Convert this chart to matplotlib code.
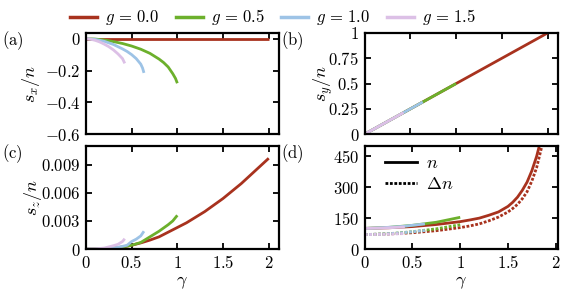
import matplotlib

matplotlib.use("Agg")
import matplotlib.pyplot as plt
from matplotlib.lines import Line2D

plt.rcParams["mathtext.fontset"] = "cm"
plt.rcParams["font.family"] = ["DejaVu Serif"]

# colours per coupling g
g_labels = [r"$g\,=\,0.0$", r"$g\,=\,0.5$", r"$g\,=\,1.0$", r"$g\,=\,1.5$"]
colors = ["#a8321e", "#6cb02c", "#9dc3e6", "#dcc0e6"]

# (a) s_x / n
sx_gamma = [
    [0.0, 2.0],
    [0.0, 0.1, 0.2, 0.3, 0.4, 0.5, 0.6, 0.7, 0.8, 0.85, 0.9, 0.95, 0.98, 1.0],
    [0.0, 0.1, 0.2, 0.3, 0.4, 0.45, 0.5, 0.55, 0.6, 0.62, 0.635],
    [0.0, 0.05, 0.1, 0.15, 0.2, 0.25, 0.3, 0.35, 0.4, 0.425],
]
sx_vals = [
    [0.0, 0.0],
    [0.0, -0.002, -0.008, -0.018, -0.03, -0.046, -0.066, -0.092, -0.128,
     -0.15, -0.178, -0.22, -0.25, -0.28],
    [0.0, -0.004, -0.016, -0.036, -0.064, -0.08, -0.1, -0.125, -0.16, -0.185, -0.215],
    [0.0, -0.003, -0.01, -0.02, -0.034, -0.05, -0.07, -0.095, -0.125, -0.155],
]

# (b) s_y / n
sy_gamma = [[0.0, 2.0], [0.0, 1.0], [0.0, 0.635], [0.0, 0.425]]
sy_vals = [[0.0, 1.0], [0.0, 0.5], [0.0, 0.3175], [0.0, 0.2125]]

# (c) s_z / n
sz_gamma = [
    [0.0, 0.1, 0.2, 0.3, 0.4, 0.5, 0.6, 0.7, 0.8, 0.9, 1.0,
     1.1, 1.2, 1.3, 1.4, 1.5, 1.6, 1.7, 1.8, 1.9, 2.0],
    [0.0, 0.1, 0.2, 0.3, 0.4, 0.5, 0.6, 0.7, 0.8, 0.9, 0.95, 1.0],
    [0.0, 0.1, 0.2, 0.3, 0.4, 0.45, 0.5, 0.55, 0.6, 0.635],
    [0.0, 0.1, 0.2, 0.3, 0.35, 0.4, 0.425],
]
sz_vals = [
    [0.0, 0.0, 0.00002, 0.00008, 0.0002, 0.0004, 0.00065, 0.00095, 0.0013, 0.0018,
     0.0023, 0.0028, 0.0034, 0.0040, 0.0047, 0.0054, 0.0062, 0.0070, 0.0079,
     0.0088, 0.0097],
    [0.0, 0.0, 0.00002, 0.0001, 0.00022, 0.0004, 0.0007, 0.0013, 0.0019,
     0.0026, 0.003, 0.0036],
    [0.0, 0.0, 0.00003, 0.0001, 0.00028, 0.0004, 0.0008, 0.00105, 0.0014, 0.0019],
    [0.0, 0.00001, 0.0001, 0.00035, 0.0005, 0.0008, 0.0011],
]

# (d) n (solid) and Delta n (dashed)
n_gamma = [
    [0.0, 0.25, 0.5, 0.75, 1.0, 1.1, 1.2, 1.3, 1.4, 1.5, 1.55, 1.6, 1.65,
     1.7, 1.75, 1.8, 1.85],
    [0.0, 0.25, 0.5, 0.75, 1.0],
    [0.0, 0.2, 0.4, 0.63],
    [0.0, 0.2, 0.42],
]
n_vals = [
    [100, 103, 109, 119, 133, 141, 150, 164, 180, 207, 227, 252, 285,
     325, 380, 450, 540],
    [100, 105, 115, 130, 154],
    [100, 104, 110, 122],
    [100, 102, 107],
]
dn_gamma = [
    [0.0, 0.25, 0.5, 0.75, 1.0, 1.1, 1.2, 1.3, 1.4, 1.5, 1.55, 1.6, 1.65,
     1.7, 1.75, 1.8, 1.85, 1.9],
    [0.0, 0.25, 0.5, 0.75, 1.0],
    [0.0, 0.2, 0.4, 0.63],
    [0.0, 0.2, 0.42],
]
dn_vals = [
    [70, 73, 79, 89, 104, 112, 122, 137, 155, 180, 197, 217, 244,
     278, 330, 395, 490, 590],
    [70, 74, 84, 98, 118],
    [70, 73, 79, 90],
    [70, 71, 75],
]

x_ticks = [0, 0.5, 1, 1.5, 2]
x_ticklabels = ["$0$", "$0.5$", "$1$", "$1.5$", "$2$"]

LW = 2.0
DASH = (0, (1.0, 0.6))

fig = plt.figure(figsize=(5.69, 3.0), dpi=100)
w, h = 0.339, 0.337
ax_a = fig.add_axes([0.151, 0.553, w, h])
ax_b = fig.add_axes([0.641, 0.553, w, h])
ax_c = fig.add_axes([0.151, 0.170, w, 0.343])
ax_d = fig.add_axes([0.641, 0.170, w, 0.343])


def style(ax, yticks, ylabels, xlim, show_x):
    ax.set_xlim(*xlim)
    ax.set_xticks(x_ticks)
    if show_x:
        ax.set_xticklabels(x_ticklabels, fontsize=12)
        ax.set_xlabel(r"$\gamma$", fontsize=13, labelpad=1)
    else:
        ax.set_xticklabels([])
    ax.set_yticks(yticks)
    ax.set_yticklabels(ylabels, fontsize=12)
    ax.tick_params(direction="in", length=4, width=1.3, top=True, right=True, pad=4)
    for sp in ax.spines.values():
        sp.set_linewidth(1.6)


for i in range(4):
    ax_a.plot(sx_gamma[i], sx_vals[i], color=colors[i], lw=LW, solid_capstyle="butt")
    ax_b.plot(sy_gamma[i], sy_vals[i], color=colors[i], lw=LW, solid_capstyle="butt")
    ax_c.plot(sz_gamma[i], sz_vals[i], color=colors[i], lw=LW, solid_capstyle="butt")
    ax_d.plot(n_gamma[i], n_vals[i], color=colors[i], lw=LW, solid_capstyle="butt")
    ax_d.plot(dn_gamma[i], dn_vals[i], color=colors[i], lw=LW, linestyle=DASH)

ax_a.set_ylim(-0.6, 0.036)
style(ax_a, [0, -0.2, -0.4, -0.6], ["$0$", "$-0.2$", "$-0.4$", "$-0.6$"], (0, 2.11), False)
ax_a.set_ylabel(r"$s_x/n$", fontsize=13, labelpad=2)

ax_b.set_ylim(0, 1)
style(ax_b, [0, 0.25, 0.5, 0.75, 1], ["$0$", "$0.25$", "$0.5$", "$0.75$", "$1$"], (0, 2.11), False)
ax_b.set_ylabel(r"$s_y/n$", fontsize=13, labelpad=-5)

ax_c.set_ylim(0, 0.011)
style(ax_c, [0, 0.003, 0.006, 0.009], ["$0$", "$0.003$", "$0.006$", "$0.009$"], (0, 2.11), True)
ax_c.set_ylabel(r"$s_z/n$", fontsize=13, labelpad=-2)

ax_d.set_ylim(0, 500)
style(ax_d, [0, 150, 300, 450], ["$0$", "$150$", "$300$", "$450$"], (0, 2.02), True)

nd_handles = [
    Line2D([], [], color="black", lw=LW),
    Line2D([], [], color="black", lw=LW, linestyle=DASH),
]
ax_d.legend(nd_handles, [r"$n$", r"$\Delta n$"], loc="upper left",
            bbox_to_anchor=(0.07, 0.99), frameon=False,
            fontsize=13, handlelength=1.75, handletextpad=0.5, labelspacing=0.15,
            borderaxespad=0.2, borderpad=0.2)

for ax, lab in [(ax_a, "(a)"), (ax_b, "(b)"), (ax_c, "(c)"), (ax_d, "(d)")]:
    pos = ax.get_position()
    fig.text(pos.x0 - 0.147, pos.y1 - 0.025, r"$\mathrm{" + lab + "}$", fontsize=12,
             ha="left", va="center")

leg_handles = [Line2D([], [], color=c, lw=2.5) for c in colors]
fig.legend(leg_handles, g_labels, loc="upper center", bbox_to_anchor=(0.48, 1.025),
           ncol=4, frameon=False, fontsize=12, handlelength=1.62, handletextpad=0.48,
           columnspacing=1.0)

fig.savefig("out.png", dpi=100)
